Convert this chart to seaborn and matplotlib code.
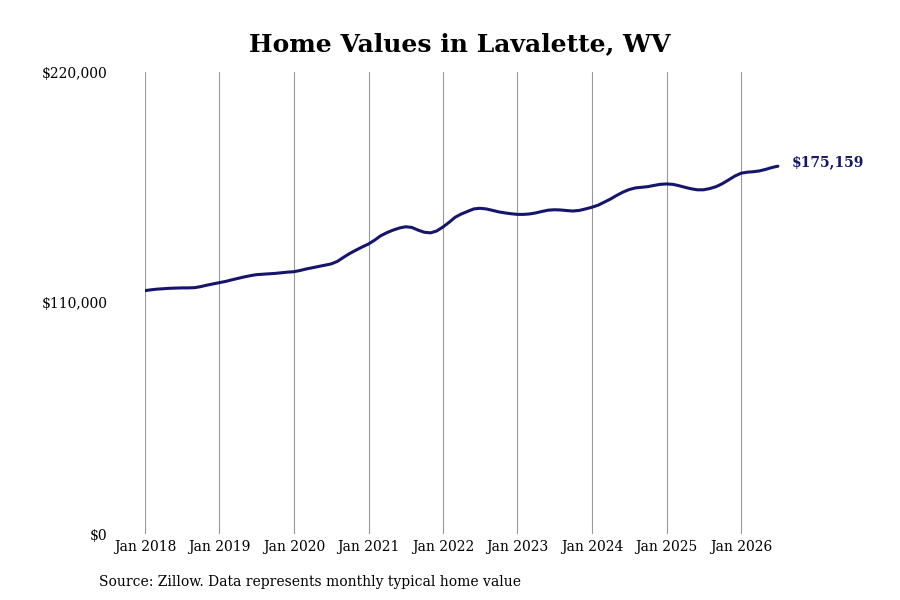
import pandas as pd
import seaborn as sns
import matplotlib.pyplot as plt
import matplotlib.dates as mdates
from matplotlib.ticker import FuncFormatter

# monthly typical home value, Jan 2018 - Jul 2026
values_2018 = [115900, 116300, 116600, 116800, 117000, 117100, 117200, 117200, 117300, 117800, 118500, 119100]
values_2019 = [119700, 120300, 121000, 121700, 122400, 123000, 123500, 123700, 123900, 124100, 124400, 124700]
values_2020 = [124900, 125500, 126200, 126800, 127400, 128000, 128600, 129800, 131800, 133600, 135200, 136700]
values_2021 = [138100, 140000, 142000, 143500, 144700, 145700, 146300, 146000, 144700, 143700, 143400, 144300]
values_2022 = [146200, 148500, 150800, 152400, 153600, 154800, 155100, 154800, 154100, 153400, 152900, 152500]
values_2023 = [152200, 152200, 152400, 152900, 153600, 154200, 154400, 154300, 154000, 153800, 154100, 154800]
values_2024 = [155600, 156600, 158000, 159500, 161200, 162800, 164000, 164800, 165100, 165400, 166000, 166500]
values_2025 = [166700, 166500, 165900, 165100, 164400, 163900, 163900, 164500, 165400, 166800, 168600, 170400]
values_2026 = [171800, 172300, 172500, 172900, 173600, 174500, 175159]

tick_years = list(range(2018, 2027))
y_ticks = [0, 110000, 220000]

values = (values_2018 + values_2019 + values_2020 + values_2021 + values_2022
          + values_2023 + values_2024 + values_2025 + values_2026)
dates = pd.date_range("2018-01-01", periods=len(values), freq="MS")
df = pd.DataFrame({"Date": dates, "Value": values})

sns.set_style("white")
plt.rcParams["font.family"] = ["DejaVu Serif"]
plt.rcParams["text.color"] = "black"
plt.rcParams["xtick.color"] = "black"
plt.rcParams["ytick.color"] = "black"

fig = plt.figure(figsize=(9, 6), dpi=100)
ax = fig.add_axes([145 / 900, 66 / 600, 715 / 900, 462 / 600])

line_color = "#15156b"
sns.lineplot(data=df, x="Date", y="Value", ax=ax, color=line_color, linewidth=2.2)

# axis limits and ticks
ax.set_xlim(pd.Timestamp("2018-01-01"), pd.Timestamp("2018-01-01") + pd.Timedelta(days=365.25 * 715 / 74.5))
ax.set_ylim(0, 220000)
ax.set_xticks([pd.Timestamp(f"{y}-01-01") for y in tick_years])
ax.xaxis.set_major_formatter(mdates.DateFormatter("Jan %Y"))
ax.set_yticks(y_ticks)
ax.yaxis.set_major_formatter(FuncFormatter(lambda v, p: f"${v:,.0f}"))
ax.tick_params(axis="x", length=0, pad=4, labelsize=10)
ax.tick_params(axis="y", length=0, pad=27, labelsize=10)

ax.grid(axis="x", color="#999999", linewidth=0.8)
ax.grid(axis="y", visible=False)
for s in ax.spines.values():
    s.set_visible(False)
ax.set_xlabel("")
ax.set_ylabel("")

# last value label
last = df.iloc[-1]
ax.annotate(f"${last['Value']:,.0f}", xy=(last["Date"], last["Value"]), xytext=(10, 3),
            textcoords="offset points", va="center", ha="left",
            fontsize=10, fontweight="bold", color=line_color)

fig.text(460 / 900, 1 - 44 / 600, "Home Values in Lavalette, WV", ha="center", va="center",
         fontsize=18, fontweight="bold")
fig.text(99 / 900, 1 - 582 / 600, "Source: Zillow. Data represents monthly typical home value",
         ha="left", va="center", fontsize=10)

fig.savefig("out.png", dpi=100)
